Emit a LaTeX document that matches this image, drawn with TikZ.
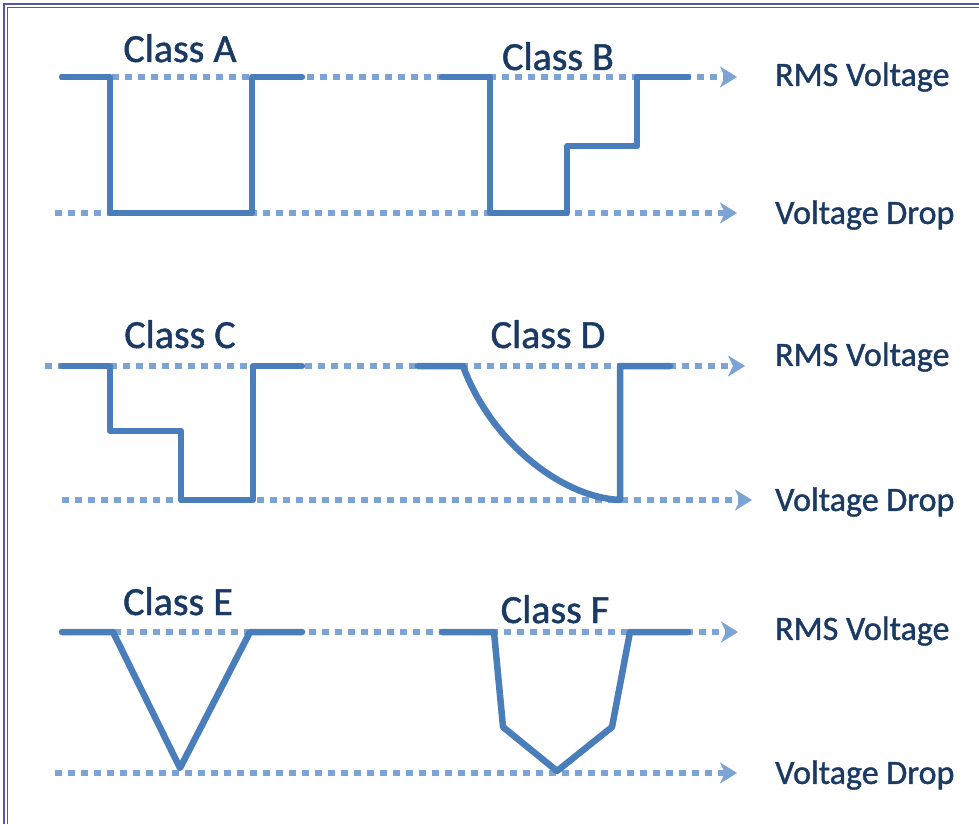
\documentclass[tikz,border=0pt]{standalone}
\usepackage{fontspec}
\setmainfont{Carlito}[FakeBold=1.2]
\usetikzlibrary{arrows.meta}
\definecolor{wavblue}{HTML}{4A7EBB}
\definecolor{dotblue}{HTML}{7BA3D3}
\definecolor{txtnavy}{HTML}{1B3A63}
\definecolor{framec}{HTML}{5656A6}

\begin{document}
\begin{tikzpicture}[x=1pt, y=-1pt,
wave/.style={wavblue, line width=6.5pt, line cap=round, line join=round},
level/.style={dotblue, line width=6.5pt, dash pattern=on 6.5pt off 6.5pt, -{Stealth[length=17pt, width=21pt, inset=5pt, line width=0.5pt]}},
title/.style={anchor=base, text=txtnavy, font=\fontsize{40}{42}\selectfont},
lbl/.style={anchor=west, inner sep=0pt, text=txtnavy, font=\fontsize{34}{36}\selectfont}
]
\useasboundingbox (0,0) rectangle (979,824);

% frame
\draw[framec, line width=1.2pt] (4,824) -- (4,4) -- (979,4);
\draw[framec, line width=1.2pt] (7.5,824) -- (7.5,7.5) -- (979,7.5);

% labels
\node[lbl] (rms1) at (775,77) {RMS Voltage};
\node[lbl] (drop1) at (775,215) {Voltage Drop};
\node[lbl] (rms2) at (775,357) {RMS Voltage};
\node[lbl] (drop2) at (775,502) {Voltage Drop};
\node[lbl] (rms3) at (775,631) {RMS Voltage};
\node[lbl] (drop3) at (775,775) {Voltage Drop};

% level lines
\coordinate (t1) at (60,77);
\coordinate (b1) at (55,213);
\coordinate (t2) at (45,366);
\coordinate (b2) at (62,500);
\coordinate (t3) at (62,632);
\coordinate (b3) at (55,773);
\draw[level, shorten >=38pt] (t1) -- (t1 -| rms1.west);
\draw[level, shorten >=38pt] (b1) -- (b1 -| drop1.west);
\draw[level, shorten >=30pt] (t2) -- (t2 -| rms2.west);
\draw[level, shorten >=23pt] (b2) -- (b2 -| drop2.west);
\draw[level, shorten >=37pt] (t3) -- (t3 -| rms3.west);
\draw[level, shorten >=38pt] (b3) -- (b3 -| drop3.west);

% titles
\node[title] (classA) at (180,62) {Class A};
\node[title] (classB) at (558,70) {Class B};
\node[title] (classC) at (180,348) {Class C};
\node[title] (classD) at (548,348) {Class D};
\node[title] (classE) at (178,615) {Class E};
\node[title] (classF) at (555,623) {Class F};

% waveforms
\draw[wave] (62,77) -- (110,77) -- (110,213) -- (252,213) -- (252,77) -- (302,77);
\draw[wave] (442,77) -- (490,77) -- (490,213) -- (567,213) -- (567,146) -- (637,146) -- (637,77) -- (688,77);
\draw[wave] (62,366) -- (110,366) -- (110,431) -- (181,431) -- (181,500) -- (253,500) -- (253,366) -- (302,366);
\draw[wave] (418,366) -- (463,366) .. controls (490,440) and (560,497) .. (620,500) -- (620,366) -- (670,366);
\draw[wave] (62,632) -- (113,632) -- (180,768) -- (250,632) -- (302,632);
\draw[wave] (442,632) -- (494,632) -- (503,727) -- (557,771) -- (612,727) -- (630,632) -- (688,632);

\end{tikzpicture}
\end{document}
